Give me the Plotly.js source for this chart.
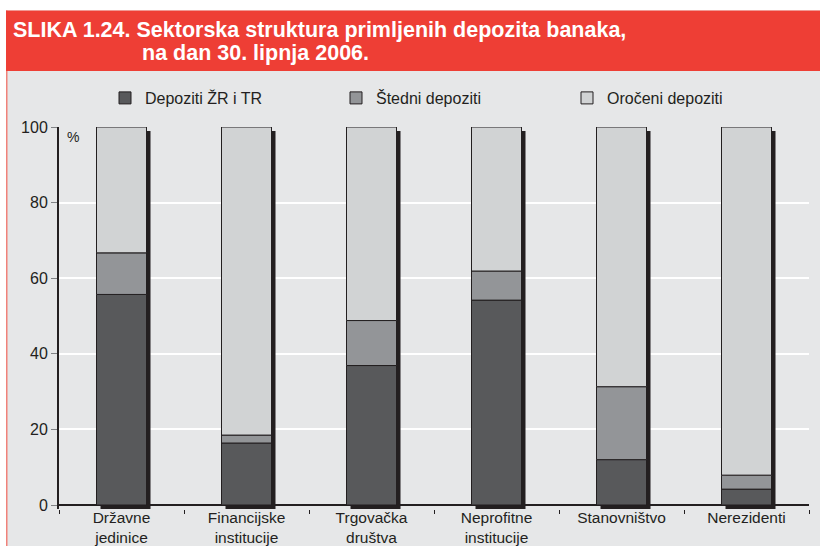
<!DOCTYPE html>
<html>
<head>
<meta charset="utf-8">
<script src="https://cdn.plot.ly/plotly-3.0.1.min.js"></script>
<style>html,body{margin:0;padding:0;background:#fff;}#chart{width:820px;height:546px;}</style>
</head>
<body>
<div id="chart"></div>
<script>
// ---- data ----
var categories = ["Državne<br>jedinice", "Financijske<br>institucije", "Trgovačka<br>društva", "Neprofitne<br>institucije", "Stanovništvo", "Nerezidenti"];
var seriesNames = ["Depoziti ŽR i TR", "Štedni depoziti", "Oročeni depoziti"];
var depozitiZR = [55.7, 16.4, 36.9, 54.2, 12.0, 4.2];
var stedni = [11.0, 2.1, 11.9, 7.7, 19.3, 3.7];
var oroceni = [33.3, 81.5, 51.2, 38.1, 68.7, 92.1];
var yTicks = [0, 20, 40, 60, 80, 100];

// ---- styles ----
var font = "Liberation Sans, Arial, Helvetica, sans-serif";
var ink = "#231f20";
var colors = ["#58595b", "#939598", "#d1d3d4"];
var L = 59, R = 809, T = 127, B0 = 505;       // B0 = pixel of value 0
var shadowPx = 4;
var B = B0 + shadowPx;                           // plot bottom (room for shadow)
var unit = (B0 - T) / 100;                       // px per value unit
var yMin = -shadowPx / unit;
function px(x){ return (x - L) / (R - L); }
function py(y){ return (B - y) / (B - T); }

var totals = depozitiZR.map(function(v, i){ return v + stedni[i] + oroceni[i]; });
var base2 = depozitiZR.slice();
var base3 = depozitiZR.map(function(v, i){ return v + stedni[i]; });

var barW = 0.4;
var shadowDx = shadowPx / 125;   // category units

var traces = [
  {type: "bar", x: categories, y: totals, base: yMin,
   width: barW, offset: -barW / 2 + shadowDx, marker: {color: ink, line: {width: 0}},
   showlegend: false, hoverinfo: "skip"},
  {type: "bar", name: seriesNames[0], x: categories, y: depozitiZR, base: 0,
   width: barW, offset: -barW / 2, marker: {color: colors[0], line: {color: ink, width: 1}}},
  {type: "bar", name: seriesNames[1], x: categories, y: stedni, base: base2,
   width: barW, offset: -barW / 2, marker: {color: colors[1], line: {color: ink, width: 1}}},
  {type: "bar", name: seriesNames[2], x: categories, y: oroceni, base: base3,
   width: barW, offset: -barW / 2, marker: {color: colors[2], line: {color: ink, width: 1}}}
];

var layout = {
  width: 820, height: 546,
  margin: {l: L, r: 820 - R, t: T, b: 546 - B, pad: 0},
  paper_bgcolor: "#e6e7e8",
  plot_bgcolor: "rgba(0,0,0,0)",
  barmode: "overlay",
  font: {family: font, size: 16, color: ink},
  title: {
    text: "SLIKA 1.24. Sektorska struktura primljenih depozita banaka,",
    font: {family: font, size: 21.5, color: "#ffffff", weight: "bold"},
    xref: "container", yref: "container",
    x: 13 / 820, xanchor: "left", y: 1 - 29.5 / 546, yanchor: "middle", pad: {l: 0, r: 0, t: 0, b: 0}
  },
  annotations: [
    {text: "na dan 30. lipnja 2006.", xref: "paper", yref: "paper",
     x: px(140), y: py(53.5), xanchor: "left", yanchor: "middle", showarrow: false,
     font: {family: font, size: 21.5, color: "#ffffff", weight: "bold"}},
    {text: "%", xref: "paper", yref: "paper", x: px(65), y: py(137), xanchor: "left", yanchor: "middle",
     showarrow: false, font: {family: font, size: 14, color: ink}}
  ],
  shapes: [
    {type: "rect", xref: "paper", yref: "paper", x0: px(0), x1: px(820), y0: py(0), y1: py(10.5),
     fillcolor: "#ffffff", line: {width: 0}, layer: "below"},
    {type: "rect", xref: "paper", yref: "paper", x0: px(0), x1: px(6), y0: py(0), y1: py(546),
     fillcolor: "#ffffff", line: {width: 0}, layer: "below"},
    {type: "rect", xref: "paper", yref: "paper", x0: px(6), x1: px(7.5), y0: py(10.5), y1: py(546),
     fillcolor: "#f0827a", line: {width: 0}, layer: "below"},
    {type: "rect", xref: "paper", yref: "paper", x0: px(6), x1: px(820), y0: py(10.5), y1: py(71),
     fillcolor: "#ee3e35", line: {width: 0}, layer: "below"}
  ],
  legend: {
    orientation: "h", x: px(105), xanchor: "left", y: py(98), yanchor: "middle",
    bgcolor: "rgba(0,0,0,0)", font: {family: font, size: 16, color: ink},
    entrywidth: 186, entrywidthmode: "pixels", traceorder: "normal"
  },
  xaxis: {
    type: "category", showline: false,
    ticks: "outside", tickson: "boundaries", ticklen: 4, tickcolor: ink, tickwidth: 1,
    ticklabelstandoff: -3,
    showgrid: false, zeroline: false, tickfont: {family: font, size: 15.5, color: ink},
    range: [-0.5, categories.length - 0.5], fixedrange: true
  },
  yaxis: {
    range: [yMin, 100], tickvals: yTicks, ticktext: yTicks.map(String),
    showline: true, linecolor: ink, linewidth: 2,
    ticks: "outside", ticklen: 6, tickcolor: "#808285", tickwidth: 1,
    showgrid: true, gridcolor: "#ffffff", gridwidth: 2,
    zeroline: true, zerolinecolor: ink, zerolinewidth: 2,
    tickfont: {family: font, size: 16, color: ink}, fixedrange: true
  }
};

Plotly.newPlot("chart", traces, layout, {displayModeBar: false, staticPlot: true});
</script>
</body>
</html>
